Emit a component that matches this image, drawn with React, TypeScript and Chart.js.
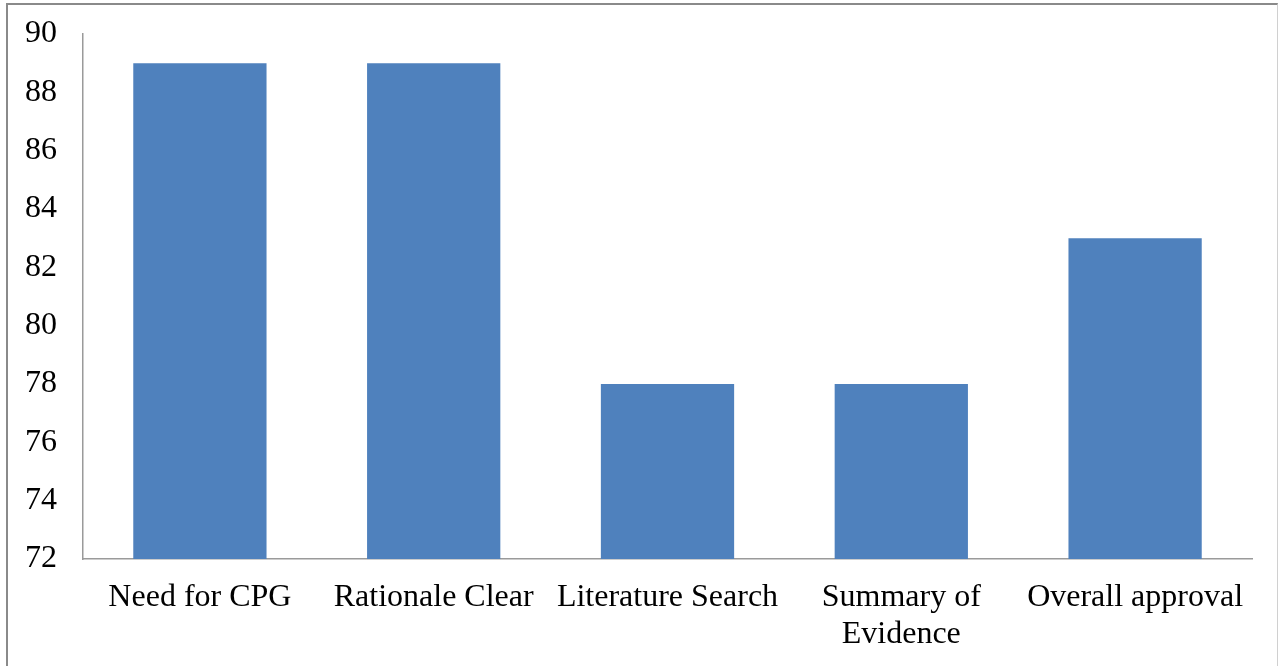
import React, { useEffect, useRef } from "react";
import { Chart, registerables } from "chart.js";

Chart.register(...registerables);

const categories: (string | string[])[] = [
  "Need for CPG",
  "Rationale Clear",
  "Literature Search",
  ["Summary of", "Evidence"],
  "Overall approval",
];
const values: number[] = [89, 89, 78, 78, 83];
const yMin = 72;
const yMax = 90;
const yStep = 2;

export default function App() {
  const ref = useRef<HTMLCanvasElement | null>(null);

  useEffect(() => {
    document.body.style.margin = "0";
    const ctx = ref.current!;
    const font = { family: "'Liberation Serif', 'Times New Roman', serif", size: 32, lineHeight: 1.13 };
    const chart = new Chart(ctx, {
      type: "bar",
      data: {
        labels: categories,
        datasets: [
          {
            data: values,
            backgroundColor: "#4F81BD",
            borderWidth: 0,
            barPercentage: 0.57,
            categoryPercentage: 1,
          },
        ],
      },
      options: {
        animation: false,
        responsive: false,
        maintainAspectRatio: false,
        layout: { padding: { top: 34, right: 29, left: 0, bottom: 0 } },
        plugins: { legend: { display: false }, tooltip: { enabled: false } },
        scales: {
          x: {
            grid: { display: false, drawTicks: false },
            border: { display: true, color: "#9a9a9a", width: 1.5 },
            ticks: { color: "#000", font, padding: 21, maxRotation: 0, autoSkip: false },
            afterFit: (s: any) => {
              s.height = 107;
              s.paddingLeft = 0;
              s.paddingRight = 0;
            },
          },
          y: {
            min: yMin,
            max: yMax,
            grid: { display: false, drawTicks: false },
            border: { display: true, color: "#9a9a9a", width: 1.5 },
            ticks: { stepSize: yStep, color: "#000", font, padding: 26 },
            afterFit: (s: any) => {
              s.width = 83;
              s.paddingTop = 0;
              s.paddingBottom = 0;
            },
          },
        },
      },
    });
    return () => chart.destroy();
  }, []);

  return (
    <div style={{ position: "relative", width: 1281, height: 666, overflow: "hidden", background: "#fff" }}>
      <div
        style={{
          position: "absolute",
          left: 6,
          top: 3,
          width: 1272,
          height: 700,
          borderLeft: "2px solid #8a8a8a",
          borderTop: "2px solid #8a8a8a",
          borderRight: "1px solid #d0d0d0",
          boxSizing: "border-box",
        }}
      />
      <canvas ref={ref} width={1281} height={666} style={{ position: "absolute", left: 0, top: 0 }} />
    </div>
  );
}
